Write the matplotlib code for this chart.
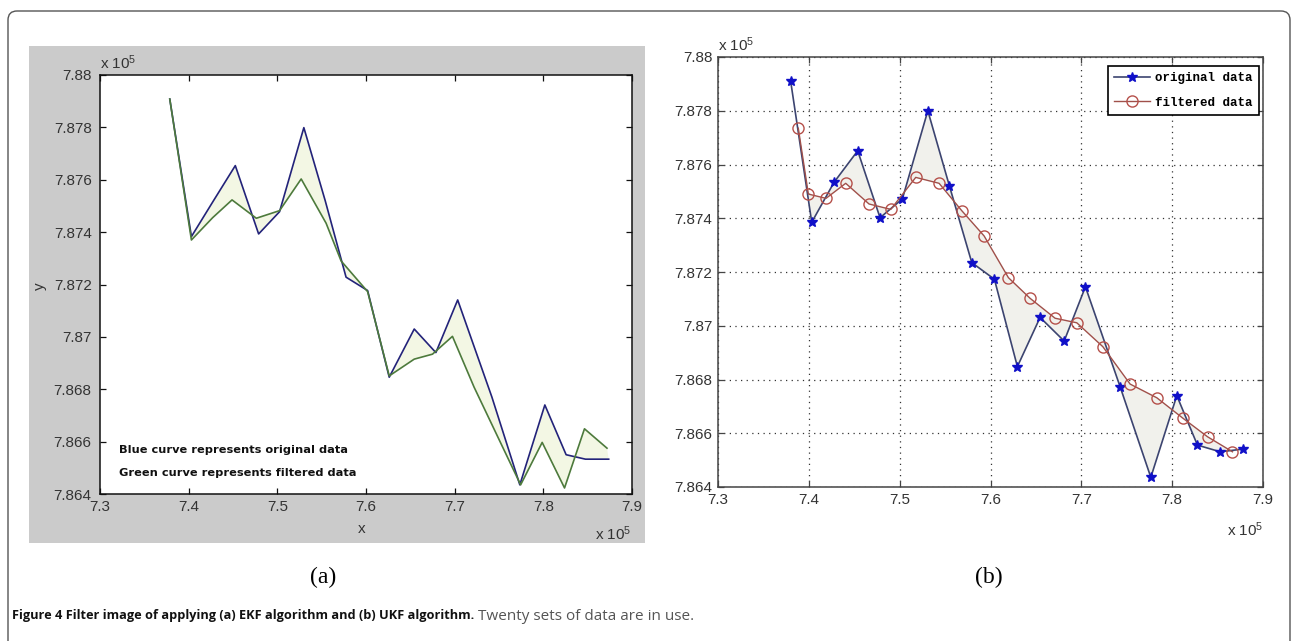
import numpy as np
import matplotlib
matplotlib.use("Agg")
import matplotlib.pyplot as plt
from matplotlib.patches import Rectangle, FancyBboxPatch
from matplotlib.lines import Line2D
from matplotlib.ticker import FuncFormatter, FixedLocator
import matplotlib.transforms as mtransforms

# ---------------- data (values in units of 10^5) ----------------
# (a) EKF
ekf_orig_x = [7.3787, 7.4031, 7.4280, 7.4526, 7.4789, 7.5025, 7.5299, 7.5540, 7.5775, 7.6018,
              7.6262, 7.6544, 7.6788, 7.7034, 7.7420, 7.7735, 7.8017, 7.8257, 7.8475, 7.8737]
ekf_orig_y = [7.87908, 7.87383, 7.87520, 7.87654, 7.87393, 7.87478, 7.87799, 7.87520, 7.87228, 7.87177,
              7.86846, 7.87030, 7.86940, 7.87141, 7.86770, 7.86435, 7.86740, 7.86550, 7.86533, 7.86533]
ekf_filt_x = [7.3787, 7.4031, 7.4270, 7.4489, 7.4763, 7.5025, 7.5269, 7.5550, 7.5719, 7.6018,
              7.6262, 7.6544, 7.6750, 7.6975, 7.7219, 7.7744, 7.7987, 7.8239, 7.8464, 7.8718]
ekf_filt_y = [7.87908, 7.87370, 7.87455, 7.87523, 7.87453, 7.87482, 7.87603, 7.87434, 7.87290, 7.87173,
              7.86851, 7.86915, 7.86934, 7.87002, 7.86808, 7.86435, 7.86597, 7.86423, 7.86649, 7.86575]

# (b) UKF
ukf_orig_x = [7.3800, 7.4032, 7.4278, 7.4538, 7.4784, 7.5030, 7.5310, 7.5547, 7.5794, 7.6043,
              7.6296, 7.6546, 7.6811, 7.7045, 7.7427, 7.7765, 7.8051, 7.8278, 7.8528, 7.8779]
ukf_orig_y = [7.87910, 7.87385, 7.87534, 7.87651, 7.87402, 7.87472, 7.87800, 7.87521, 7.87235, 7.87173,
              7.86848, 7.87031, 7.86943, 7.87145, 7.86773, 7.86436, 7.86740, 7.86556, 7.86531, 7.86541]
ukf_filt_x = [7.3884, 7.3995, 7.4189, 7.4406, 7.4663, 7.4902, 7.5177, 7.5434, 7.5684, 7.5930,
              7.6197, 7.6436, 7.6711, 7.6950, 7.7237, 7.7537, 7.7831, 7.8118, 7.8389, 7.8664]
ukf_filt_y = [7.87735, 7.87490, 7.87474, 7.87530, 7.87453, 7.87433, 7.87552, 7.87530, 7.87428, 7.87334,
              7.87179, 7.87102, 7.87028, 7.87011, 7.86922, 7.86783, 7.86732, 7.86656, 7.86587, 7.86531]

x_ticks = [7.3, 7.4, 7.5, 7.6, 7.7, 7.8, 7.9]
y_ticks = [7.864, 7.866, 7.868, 7.870, 7.872, 7.874, 7.876, 7.878, 7.880]
legend_labels = ["original data", "filtered data"]
note_lines = ["Blue curve represents original data", "Green curve represents filtered data"]
caption_bold = "Figure 4 Filter image of applying (a) EKF algorithm and (b) UKF algorithm."
caption_rest = " Twenty sets of data are in use."

# ---------------- figure ----------------
W, H = 1294, 641
plt.rcParams['mathtext.fontset'] = 'custom'
plt.rcParams['mathtext.rm'] = 'Liberation Sans'
plt.rcParams['mathtext.it'] = 'Liberation Sans'
plt.rcParams['mathtext.bf'] = 'Liberation Sans:bold'
fig = plt.figure(figsize=(W / 100, H / 100), dpi=100)
fig.patch.set_facecolor('white')


def fx(x):
    return x / W


def fy(y):
    return 1 - y / H


# outer rounded frame
frame = FancyBboxPatch((8, H - 720), 1282, 720 - 11, boxstyle='round,pad=0,rounding_size=9',
                       transform=mtransforms.IdentityTransform(), fill=False,
                       ec='#555555', lw=1.0, zorder=-5)
fig.patches.append(frame)

# gray MATLAB window for (a)
fig.patches.append(Rectangle((fx(29), fy(543)), (645 - 29) / W, (543 - 46) / H,
                             transform=fig.transFigure, facecolor='#cbcbcb',
                             edgecolor='none', zorder=-5))

tick_font = dict(family='Liberation Sans', size=11)
fmt = FuncFormatter(lambda v, p: f"{round(v, 4):g}")


def style_axes(ax, spine_color, xpad, ypad):
    ax.set_xlim(7.3, 7.9)
    ax.set_ylim(7.864, 7.88)
    ax.xaxis.set_major_locator(FixedLocator(x_ticks))
    ax.yaxis.set_major_locator(FixedLocator(y_ticks))
    ax.xaxis.set_major_formatter(fmt)
    ax.yaxis.set_major_formatter(fmt)
    ax.tick_params(direction='in', top=True, right=True, length=4, width=0.9,
                   color=spine_color, labelcolor='#333333')
    ax.tick_params(axis='x', pad=xpad)
    ax.tick_params(axis='y', pad=ypad)
    for lab in ax.get_xticklabels() + ax.get_yticklabels():
        lab.set_fontfamily('Liberation Sans')
        lab.set_fontsize(11)
    for s in ax.spines.values():
        s.set_color(spine_color)
        s.set_linewidth(1.1)


# ---------------- (a) ----------------
axa = fig.add_axes([fx(100), fy(494), 532 / W, 419 / H])
axa.set_zorder(2)
axa.set_facecolor('white')
style_axes(axa, '#111111', 4, 6)
axa.fill(np.concatenate([ekf_orig_x, ekf_filt_x[::-1]]),
         np.concatenate([ekf_orig_y, ekf_filt_y[::-1]]),
         facecolor='#f3f7e4', edgecolor='none', zorder=1)
axa.plot(ekf_orig_x, ekf_orig_y, color='#23237a', lw=1.2, zorder=3)
axa.plot(ekf_filt_x, ekf_filt_y, color='#4d7a3c', lw=1.2, zorder=4)
for i, line in enumerate(note_lines):
    axa.text((119 - 100) / 532, (494 - 450 - 23 * i) / 419, line, transform=axa.transAxes,
             family='DejaVu Sans', weight='bold', size=8.2, color='#111111',
             ha='left', va='center', zorder=6)
fig.text(fx(100), fy(63), r'x 10$^{5}$', ha='left', va='center', color='#333333', **tick_font)
fig.text(fx(595), fy(534), r'x 10$^{5}$', ha='left', va='center', color='#333333', **tick_font)
fig.text(fx(362), fy(529), 'x', ha='center', va='center', color='#333333', **tick_font)
fig.text(fx(40), fy(286), 'y', ha='center', va='center', rotation=90, color='#333333', **tick_font)

# ---------------- (b) ----------------
axb = fig.add_axes([fx(718), fy(487), 545 / W, 430 / H])
axb.set_zorder(2)
axb.set_facecolor('white')
style_axes(axb, '#444444', 4, 4)
axb.grid(True, linestyle=(0, (1, 3.5)), color='#333333', linewidth=0.9)
axb.set_axisbelow(True)
axb.fill(np.concatenate([ukf_orig_x, ukf_filt_x[::-1]]),
         np.concatenate([ukf_orig_y, ukf_filt_y[::-1]]),
         facecolor='#f1f1ec', edgecolor='none', zorder=1)
axb.plot(ukf_orig_x, ukf_orig_y, color='#3c4470', lw=1.2, marker='*', ms=7,
         mfc='#1010c8', mec='#1010c8', zorder=3)
axb.plot(ukf_filt_x, ukf_filt_y, color='#a0504a', lw=1.0, marker='o', ms=8,
         mfc='none', mec='#b5504a', mew=1.0, zorder=4)
handles = [Line2D([], [], color='#3c4470', lw=1.2, marker='*', ms=7, mfc='#1010c8', mec='#1010c8'),
           Line2D([], [], color='#a0504a', lw=1.0, marker='o', ms=8, mfc='none', mec='#b5504a')]
leg = axb.legend(handles, legend_labels, loc='upper right',
                 bbox_to_anchor=((1259 - 718) / 545, (487 - 66) / 430), borderaxespad=0,
                 prop=dict(family='Liberation Mono', weight='bold', size=9),
                 handlelength=2.9, handletextpad=0.4, labelspacing=1.0, borderpad=0.5,
                 fancybox=False, framealpha=1, edgecolor='black')
leg.get_frame().set_linewidth(1.2)
fig.text(fx(718), fy(45), r'x 10$^{5}$', ha='left', va='center', color='#333333', **tick_font)
fig.text(fx(1227), fy(530), r'x 10$^{5}$', ha='left', va='center', color='#333333', **tick_font)

# ---------------- panel letters & caption ----------------
fig.text(fx(323), fy(577), '(a)', family='Liberation Serif', size=17, ha='center', va='center', color='black')
fig.text(fx(989), fy(577), '(b)', family='Liberation Serif', size=17, ha='center', va='center', color='black')

t1 = fig.text(fx(12), fy(616), caption_bold, family='Open Sans', weight='bold', size=9.2,
              ha='left', va='center', color='#111111')
fig.canvas.draw()
bb = t1.get_window_extent()
fig.text(bb.x1 / W, fy(616), caption_rest, family='Open Sans', size=11,
         ha='left', va='center', color='#555555')

fig.savefig('out.png', dpi=100, facecolor='white')
